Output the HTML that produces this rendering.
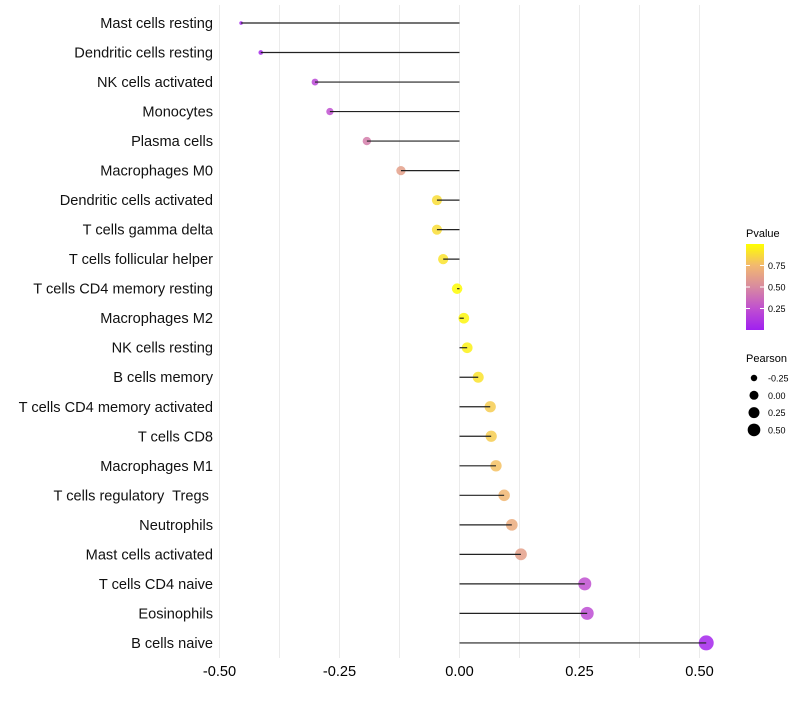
<!DOCTYPE html>
<html><head><meta charset="utf-8"><style>
body{margin:0;background:#fff;font-family:"Liberation Sans",sans-serif}
svg text{font-family:"Liberation Sans",sans-serif;white-space:pre}
</style></head><body>
<svg id="chart" width="800" height="700"></svg>
<script>
const cats=["Mast cells resting","Dendritic cells resting","NK cells activated","Monocytes","Plasma cells","Macrophages M0","Dendritic cells activated","T cells gamma delta","T cells follicular helper","T cells CD4 memory resting","Macrophages M2","NK cells resting","B cells memory","T cells CD4 memory activated","T cells CD8","Macrophages M1","T cells regulatory  Tregs ","Neutrophils","Mast cells activated","T cells CD4 naive","Eosinophils","B cells naive"];
const pearson=[-0.455,-0.414,-0.301,-0.270,-0.193,-0.122,-0.047,-0.047,-0.034,-0.005,0.009,0.016,0.039,0.064,0.066,0.076,0.093,0.109,0.128,0.261,0.266,0.514];
const pvalue=[0.02,0.05,0.2,0.25,0.45,0.62,0.88,0.88,0.9,0.99,0.97,0.95,0.9,0.82,0.82,0.78,0.74,0.68,0.62,0.25,0.23,0.03];
const xTicks=[-0.5,-0.25,0,0.25,0.5];
const xTickLabels=["-0.50","-0.25","0.00","0.25","0.50"];
const pTicks=[0.25,0.5,0.75];
const sizeLegend=[-0.25,0,0.25,0.5];
const NS="http://www.w3.org/2000/svg";
const svg=document.getElementById('chart');
const x=v=>459.5+v*480;
const y=i=>23+i*29.52;
const r=v=>Math.sqrt(Math.max(2,28.1+54.6*v));
const stops=[[0,[160,32,240]],[0.25,[192,80,208]],[0.5,[216,138,160]],[0.75,[242,184,112]],[1,[255,255,0]]];
function col(p){for(let k=1;k<stops.length;k++){if(p<=stops[k][0]){const a=stops[k-1],b=stops[k],t=(p-a[0])/(b[0]-a[0]);return 'rgb('+a[1].map((c,j)=>Math.round(c+(b[1][j]-c)*t)).join(',')+')';}}return 'rgb(255,255,0)';}
function el(t,a,parent){const e=document.createElementNS(NS,t);for(const k in a)e.setAttribute(k,a[k]);(parent||svg).appendChild(e);return e;}
for(let g=-0.5;g<=0.5001;g+=0.125){
 const l=el('line',{x1:x(g),x2:x(g),y1:5,y2:658,stroke:'#ebebeb','stroke-width':1});
 
 
}
xTicks.forEach((t,i)=>{
 const tx=el('text',{x:x(t),y:676,'text-anchor':'middle','font-size':14.6,fill:'#000'});
 tx.textContent=xTickLabels[i];
 
 
});
cats.forEach((c,i)=>{
 const tx=el('text',{x:213,y:y(i)+5,'text-anchor':'end','font-size':14.6,fill:'#111'});
 tx.textContent=c;
 
 
 const pt=el('circle',{cx:x(pearson[i]),cy:y(i),r:r(pearson[i]),fill:col(pvalue[i]),'fill-opacity':0.85});
 
 
 const ln=el('line',{x1:x(0),x2:x(pearson[i]),y1:y(i),y2:y(i),stroke:'#222','stroke-width':1.2});
 
 
});
const g=el('g',{});


const defs=el('defs',{});
const lg=el('linearGradient',{id:'pg',x1:0,y1:1,x2:0,y2:0},defs);
stops.forEach(s=>el('stop',{offset:s[0],'stop-color':'rgb('+s[1].join(',')+')'},lg));
const lt=el('text',{x:746,y:237,'font-size':11},g);lt.textContent='Pvalue';
el('rect',{x:746,y:244,width:18,height:86,fill:'url(#pg)'},g);
const py=p=>330-p*86;
pTicks.forEach(p=>{el('line',{x1:746,x2:750,y1:py(p),y2:py(p),stroke:'#fff'},g);el('line',{x1:760,x2:764,y1:py(p),y2:py(p),stroke:'#fff'},g);
 const t=el('text',{x:768,y:py(p)+3.5,'font-size':9},g);t.textContent=p.toFixed(2);});
const g2=el('g',{});


const st=el('text',{x:746,y:362,'font-size':11},g2);st.textContent='Pearson';
sizeLegend.forEach((v,i)=>{const cy=378+i*17.3;el('circle',{cx:754,cy:cy,r:r(v)*0.85,fill:'#000'},g2);
 const t=el('text',{x:768,y:cy+3.5,'font-size':9},g2);t.textContent=v.toFixed(2);});
</script>
</body></html>
